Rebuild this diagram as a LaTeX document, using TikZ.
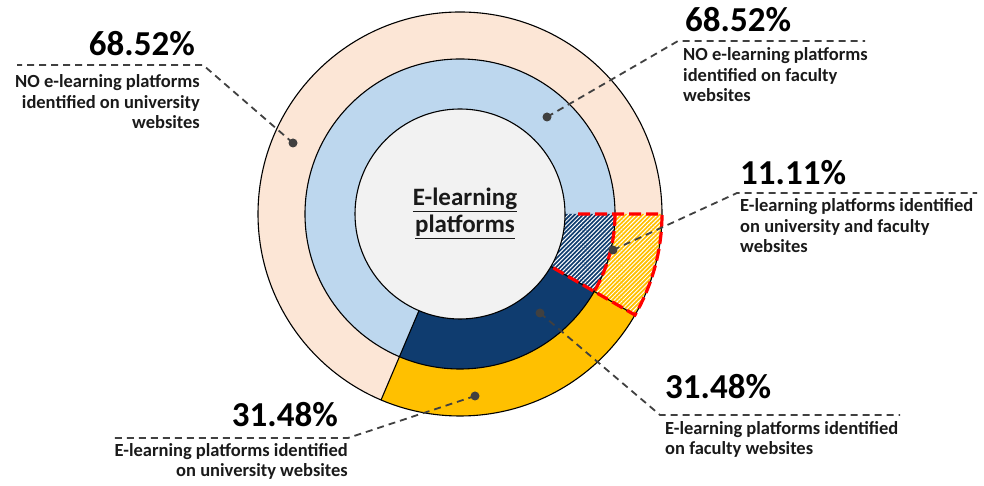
\documentclass[tikz,border=0pt]{standalone}
\usepackage{fontspec}
\setmainfont{Carlito}
\usetikzlibrary{patterns.meta}
\definecolor{peach}{HTML}{FCE6D6}
\definecolor{lblue}{HTML}{BDD7EE}
\definecolor{igray}{HTML}{F2F2F2}
\definecolor{navy}{HTML}{0F3C6F}
\definecolor{gold}{HTML}{FFC000}
\definecolor{dashgray}{HTML}{404040}
\definecolor{txt}{HTML}{1A1A1A}
\begin{document}
\begin{tikzpicture}[x=1pt,y=1pt,
  ring/.style={draw=black, line width=1.1pt},
  leader/.style={draw=dashgray, line width=1.8pt, dash pattern=on 7pt off 5pt},
  dotnode/.style={circle, fill=dashgray, inner sep=0pt, minimum size=9pt},
  pct/.style={font=\fontsize{35}{38}\selectfont\bfseries, inner sep=0pt, text=black},
  lbl/.style={font=\fontsize{18.5}{20.8}\selectfont\bfseries, inner sep=0pt, text=txt},
  hatch/.style={pattern={Lines[angle=45,distance=3pt,line width=1pt]}, pattern color=white},
  redline/.style={draw=red, line width=3.2pt, dash pattern=on 12pt off 5pt}
]
\useasboundingbox (0,0) rectangle (984,486);
\coordinate (C) at (460,272);
% outer ring
\fill[peach] (C) circle (202);
\fill[gold] (C) -- ([shift={(-113:202)}]C) arc (-113:0:202) -- cycle;
\fill[hatch] (C) -- ([shift={(-30:202)}]C) arc (-30:0:202) -- cycle;
% middle ring
\fill[lblue] (C) circle (155);
\fill[navy] (C) -- ([shift={(-113:155)}]C) arc (-113:0:155) -- cycle;
\fill[hatch] (C) -- ([shift={(-30:155)}]C) arc (-30:0:155) -- cycle;
% inner disk
\fill[igray] (C) circle (105);
% outlines
\draw[ring] (C) circle (202) (C) circle (155) (C) circle (105);
\draw[ring] ([shift={(-113:105)}]C) -- ([shift={(-113:202)}]C);
\draw[ring] ([shift={(-30:105)}]C) -- ([shift={(-30:202)}]C);
% red dashed outline of the hatched sector
\draw[redline] ([shift={(0:118)}]C) -- ([shift={(0:202)}]C) arc (0:-30:202) -- ([shift={(-30:105)}]C);
\draw[redline] ([shift={(0:155)}]C) arc (0:-30:155);
% centre label
\node[font=\fontsize{25}{27}\selectfont\bfseries, align=center, text=txt, anchor=base, inner sep=0pt] (ctr) at (465,253) {\underline{E-learning}\\\underline{platforms}};
% leader dots
\node[dotnode] (d1) at (293,343) {};
\node[dotnode] (d2) at (547,369) {};
\node[dotnode] (d3) at (613,236) {};
\node[dotnode] (d4) at (540,173) {};
\node[dotnode] (d5) at (475,90) {};
\coordinate (e1) at (203,421); \coordinate (f1) at (17,421);
\coordinate (e2) at (678,445); \coordinate (f2) at (865,445);
\coordinate (e3) at (737,293); \coordinate (f3) at (977,293);
\coordinate (e4) at (660,71);  \coordinate (f4) at (900,71);
\coordinate (e5) at (348,48);  \coordinate (f5) at (113,48);
\draw[leader] (d1.center) -- (e1) -- (f1);
\draw[leader] (d2.center) -- (e2) -- (f2);
\draw[leader] (d3.center) -- (e3) -- (f3);
\draw[leader] (d4.center) -- (e4) -- (f4);
\draw[leader] (d5.center) -- (e5) -- (f5);
% labels (multi-line nodes anchored at the baseline of their last line)
\node[pct, anchor=base east] (p1) at (195,430) {68.52\%};
\node[lbl, anchor=base east, align=right] (t1) at (200,357) {NO e-learning platforms\\identified on university\\websites};
\node[pct, anchor=base west] (p2) at (685,454) {68.52\%};
\node[lbl, anchor=base west, align=left] (t2) at (683,384) {NO e-learning platforms\\identified on faculty\\websites};
\node[pct, anchor=base west] (p3) at (740,301) {11.11\%};
\node[lbl, anchor=base west, align=left] (t3) at (740,233) {E-learning platforms identified\\on university and faculty\\websites};
\node[pct, anchor=base west] (p4) at (665,87) {31.48\%};
\node[lbl, anchor=base west, align=left] (t4) at (665,31) {E-learning platforms identified\\on faculty websites};
\node[pct, anchor=base east] (p5) at (338,59) {31.48\%};
\node[lbl, anchor=base east, align=right] (t5) at (348,9) {E-learning platforms identified\\on university websites};
\end{tikzpicture}
\end{document}
